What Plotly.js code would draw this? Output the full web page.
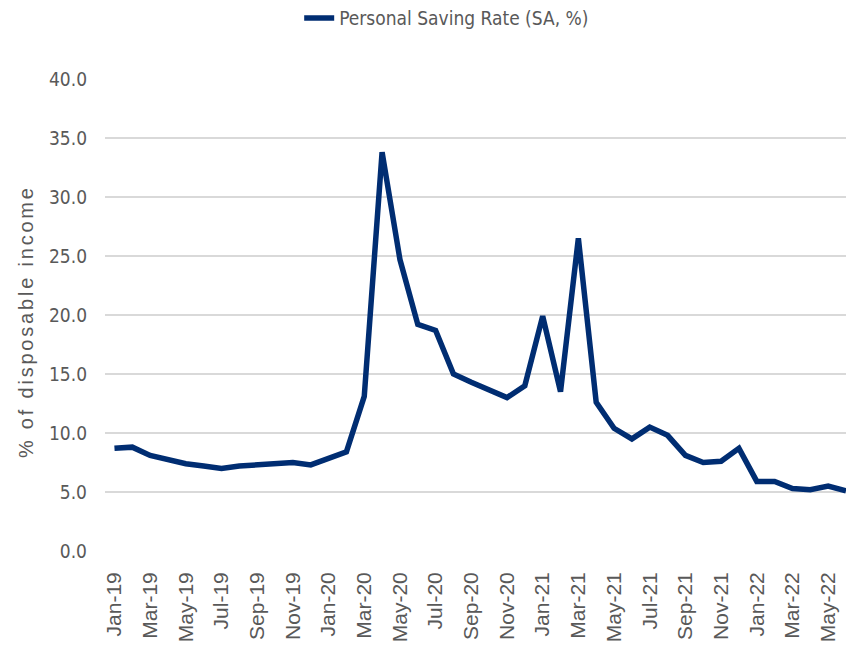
<!DOCTYPE html>
<html>
<head>
<meta charset="utf-8">
<script src="https://cdn.plot.ly/plotly-3.0.1.min.js"></script>
<style>
  html, body { margin: 0; padding: 0; background: #fff; }
  #chart { width: 846px; height: 648px; }
  .annotation-text { letter-spacing: 2.8px; }
</style>
</head>
<body>
<div id="chart"></div>
<script>
const months = [
  "Jan-19","Feb-19","Mar-19","Apr-19","May-19","Jun-19","Jul-19","Aug-19","Sep-19","Oct-19","Nov-19","Dec-19",
  "Jan-20","Feb-20","Mar-20","Apr-20","May-20","Jun-20","Jul-20","Aug-20","Sep-20","Oct-20","Nov-20","Dec-20",
  "Jan-21","Feb-21","Mar-21","Apr-21","May-21","Jun-21","Jul-21","Aug-21","Sep-21","Oct-21","Nov-21","Dec-21",
  "Jan-22","Feb-22","Mar-22","Apr-22","May-22","Jun-22"
];
const savingRate = [
  8.7, 8.8, 8.1, 7.7, 7.4, 7.2, 7.0, 7.2, 7.3, 7.4, 7.5, 7.3,
  7.8, 8.4, 13.1, 33.8, 24.7, 19.2, 18.7, 15.0, 14.3, 13.6, 13.0, 14.0,
  19.9, 13.5, 26.5, 12.6, 10.4, 9.5, 10.5, 9.8, 8.1, 7.5, 7.6, 8.7,
  5.9, 5.9, 5.3, 5.2, 5.5, 5.1
];
const seriesName = "Personal Saving Rate (SA, %)";
const yAxisTitle = "% of disposable income";
const tickLabels = months.filter((m, i) => i % 2 === 0);
const yTicks = [0, 5, 10, 15, 20, 25, 30, 35, 40];

const trace = {
  type: "scatter",
  mode: "lines",
  x: months,
  y: savingRate,
  name: seriesName,
  line: { color: "#002D72", width: 5.5 }
};

const layout = {
  width: 846,
  height: 648,
  paper_bgcolor: "#ffffff",
  plot_bgcolor: "#ffffff",
  margin: { l: 105, r: 0, t: 79, b: 97 },
  showlegend: true,
  legend: {
    orientation: "h",
    xref: "container", yref: "container",
    x: 0.528, xanchor: "center",
    y: 0.972, yanchor: "middle",
    font: { family: "DejaVu Sans Condensed", size: 19, color: "#595959" },
    bgcolor: "rgba(0,0,0,0)"
  },
  xaxis: {
    type: "category",
    categoryorder: "array",
    categoryarray: months,
    range: [-0.53, 41],
    tickmode: "array",
    tickvals: tickLabels,
    ticktext: tickLabels,
    tickangle: -90,
    ticks: "",
    ticklabelstandoff: 16,
    tickfont: { family: "Liberation Sans", size: 21, color: "#595959" },
    showgrid: false,
    zeroline: false,
    showline: false,
    fixedrange: true
  },
  yaxis: {
    range: [0, 40],
    tickmode: "array",
    tickvals: yTicks,
    ticktext: yTicks.map(v => v.toFixed(1)),
    ticks: "",
    ticklabelstandoff: 17,
    tickfont: { family: "DejaVu Sans Condensed", size: 19, color: "#595959" },
    showgrid: true,
    gridcolor: "#D9D9D9",
    gridwidth: 1.5,
    zeroline: false,
    showline: false,
    fixedrange: true
  },
  annotations: [{
    text: yAxisTitle,
    xref: "paper", yref: "paper",
    x: -0.1073, y: 0.486,
    xanchor: "center", yanchor: "middle",
    textangle: -90,
    showarrow: false,
    font: { family: "Liberation Sans", size: 20, color: "#595959" }
  }]
};

Plotly.newPlot("chart", [trace], layout, { displayModeBar: false, staticPlot: true });
</script>
</body>
</html>
